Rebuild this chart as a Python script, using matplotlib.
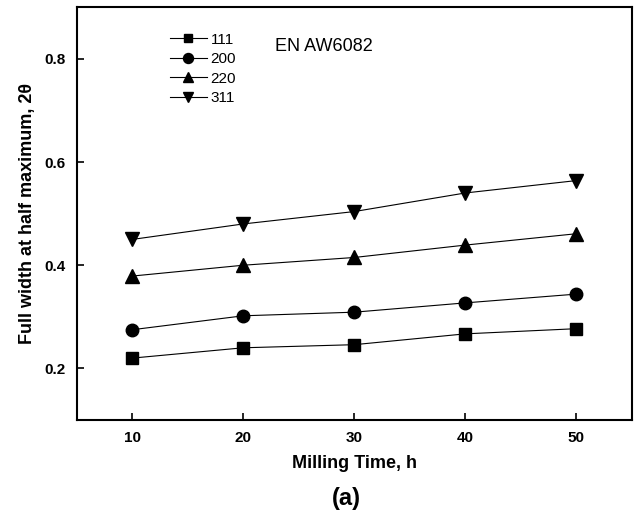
import matplotlib
matplotlib.use('Agg')
import matplotlib.pyplot as plt

# milling time (h)
time_h = [10, 20, 30, 40, 50]

# FWHM for each reflection
fwhm_111 = [0.220, 0.240, 0.246, 0.267, 0.277]
fwhm_200 = [0.275, 0.302, 0.309, 0.327, 0.344]
fwhm_220 = [0.379, 0.400, 0.415, 0.439, 0.461]
fwhm_311 = [0.450, 0.480, 0.504, 0.540, 0.564]

labels = ['111', '200', '220', '311']
markers = ['s', 'o', '^', 'v']
sizes = [8, 9, 9.5, 9.5]

plt.rcParams['font.family'] = ['Liberation Sans', 'DejaVu Sans']

fig = plt.figure(figsize=(6.4, 5.16), dpi=100)
ax = fig.add_axes([0.12, 0.186, 0.867, 0.80])

series = [fwhm_111, fwhm_200, fwhm_220, fwhm_311]
for y, lab, m, ms in zip(series, labels, markers, sizes):
    ax.plot(time_h, y, color='black', linewidth=0.8, marker=m,
            markersize=ms, markerfacecolor='black', markeredgecolor='black',
            label=lab)

ax.set_xlim(5, 55)
ax.set_ylim(0.1, 0.9)
ax.set_xticks(time_h)
ax.set_yticks([0.2, 0.4, 0.6, 0.8])
ax.tick_params(direction='in', length=5, width=1.2, labelsize=11, pad=8)
for lbl in ax.get_xticklabels() + ax.get_yticklabels():
    lbl.set_fontweight('bold')
for sp in ax.spines.values():
    sp.set_linewidth(1.5)

ax.set_xlabel('Milling Time, h', fontsize=13, fontweight='bold', labelpad=7)
ax.set_ylabel('Full width at half maximum, 2θ', fontsize=13, fontweight='bold', labelpad=6)

ax.legend(loc='upper left', bbox_to_anchor=(0.143, 0.972), frameon=False,
          fontsize=11, handlelength=2.4, handletextpad=0.25, labelspacing=0.36,
          markerscale=0.8)
ax.text(0.357, 0.904, 'EN AW6082', transform=ax.transAxes, fontsize=13,
        va='center', ha='left')

fig.text(0.541, 0.033, '(a)', fontsize=17, fontweight='bold', ha='center', va='center')

fig.savefig('out.png', dpi=100)
